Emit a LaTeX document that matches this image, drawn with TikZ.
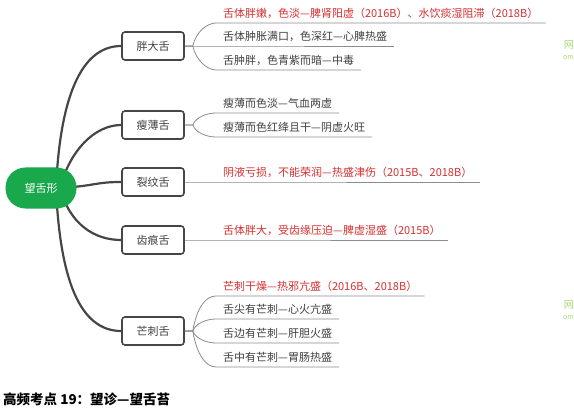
\documentclass[tikz,border=0pt]{standalone}
\usepackage{fontspec}
\newfontfamily\cjk{Noto Sans CJK SC}
\usetikzlibrary{backgrounds}

\definecolor{rootgreen}{RGB}{26,168,76}
\definecolor{hotred}{RGB}{214,48,49}
\definecolor{txtgray}{RGB}{64,64,64}
\definecolor{trunkgray}{RGB}{70,70,70}
\definecolor{leafgray}{RGB}{140,140,140}
\definecolor{markgreen}{RGB}{170,215,120}

\tikzset{
    rootnode/.style={fill=rootgreen, text=white, rounded corners=20pt,
        minimum width=71pt, minimum height=41pt, font=\cjk\fontsize{11}{13}\selectfont},
    topicbox/.style={draw=trunkgray, line width=1.6pt, rounded corners=3pt, fill=white,
        text=txtgray, minimum width=62pt, minimum height=28pt, font=\cjk\fontsize{11}{13}\selectfont},
    leaf/.style={anchor=south west, inner xsep=7pt, inner ysep=2.5pt, text height=8.5pt,
        text depth=2.5pt, text=txtgray, font=\cjk\fontsize{11}{13}\selectfont},
    hotleaf/.style={leaf, text=hotred},
    trunk/.style={draw=trunkgray, line width=2.2pt},
    leafline/.style={draw=leafgray, line width=0.8pt},
}

\begin{document}
\begin{tikzpicture}[x=1pt, y=-1pt]

    \useasboundingbox (0,0) rectangle (574,420);

    % centre and topics
    \node[rootnode] (wangshe) at (41,188) {望舌形};

    \node[topicbox] (pangda) at (153,46)  {胖大舌};
    \node[topicbox] (shoubo) at (153,125) {瘦薄舌};
    \node[topicbox] (liewen) at (153,182) {裂纹舌};
    \node[topicbox] (chihen) at (153,240) {齿痕舌};
    \node[topicbox] (mangci) at (153,331) {芒刺舌};

    % leaves
    \node[hotleaf] (pd1) at (216,23) {舌体胖嫩，色淡—脾肾阳虚（2016B）、水饮痰湿阻滞（2018B）};
    \node[leaf]    (pd2) at (216,46) {舌体肿胀满口，色深红—心脾热盛};
    \node[leaf]    (pd3) at (216,70) {舌肿胖，色青紫而暗—中毒};

    \node[leaf] (sb1) at (216,113) {瘦薄而色淡—气血两虚};
    \node[leaf] (sb2) at (216,137) {瘦薄而色红绛且干—阴虚火旺};

    \node[hotleaf] (lw1) at (216,182) {阴液亏损，不能荣润—热盛津伤（2015B、2018B）};

    \node[hotleaf] (ch1) at (216,240) {舌体胖大，受齿缘压迫—脾虚湿盛（2015B）};

    \node[hotleaf] (mc1) at (216,296) {芒刺干燥—热邪亢盛（2016B、2018B）};
    \node[leaf]    (mc2) at (216,319) {舌尖有芒刺—心火亢盛};
    \node[leaf]    (mc3) at (216,343) {舌边有芒刺—肝胆火盛};
    \node[leaf]    (mc4) at (216,367) {舌中有芒刺—胃肠热盛};

    % trunk curves, under the nodes
    \begin{scope}[on background layer]
    \fill[white] (0,0) rectangle (574,420);
    \draw[trunk] ([xshift=15pt]wangshe.center) .. controls (60,100) and (80,46) .. (pangda.west);
    \draw[trunk] ([xshift=19pt]wangshe.center) .. controls (70,150) and (95,125) .. (shoubo.west);
    \draw[trunk] ([xshift=19pt]wangshe.center) .. controls (95,186) and (95,182) .. (liewen.west);
    \draw[trunk] ([xshift=19pt]wangshe.center) .. controls (70,225) and (95,240) .. (chihen.west);
    \draw[trunk] ([xshift=15pt]wangshe.center) .. controls (60,280) and (80,331) .. (mangci.west);
    \end{scope}

    % leaf lines
    \draw[leafline] (pangda.east) -- ++(8,0) .. controls +(3,-14) and +(-9,0) .. (pd1.south west) -- (pd1.south east);
    \draw[leafline] (pangda.east) -- (pd2.south west) -- (pd2.south east);
    \draw[leafline] (pangda.east) -- ++(8,0) .. controls +(3,14) and +(-9,0) .. (pd3.south west) -- (pd3.south east);

    \draw[leafline] (shoubo.east) -- ++(8,0) .. controls +(3,-8) and +(-9,0) .. (sb1.south west) -- (sb1.south east);
    \draw[leafline] (shoubo.east) -- ++(8,0) .. controls +(3,8) and +(-9,0) .. (sb2.south west) -- (sb2.south east);

    \draw[leafline] (liewen.east) -- (lw1.south west) -- (lw1.south east);
    \draw[leafline] (chihen.east) -- (ch1.south west) -- (ch1.south east);

    \draw[leafline] (mangci.east) -- ++(8,0) .. controls +(4,-24) and +(-10,0) .. (mc1.south west) -- (mc1.south east);
    \draw[leafline] (mangci.east) -- ++(8,0) .. controls +(3,-8) and +(-9,0) .. (mc2.south west) -- (mc2.south east);
    \draw[leafline] (mangci.east) -- ++(8,0) .. controls +(3,8) and +(-9,0) .. (mc3.south west) -- (mc3.south east);
    \draw[leafline] (mangci.east) -- ++(8,0) .. controls +(4,24) and +(-10,0) .. (mc4.south west) -- (mc4.south east);

    % caption and watermark bits
    \node[anchor=west, inner sep=0pt, font=\cjk\bfseries\fontsize{13.5}{15}\selectfont] (caption) at (3,399) {高频考点 19：望诊—望舌苔};

    \node[anchor=east, inner sep=0pt, text=markgreen, font=\cjk\fontsize{10}{11}\selectfont] (mark1) at (574,45) {网};
    \node[anchor=east, inner sep=0pt, text=markgreen, font=\cjk\fontsize{7}{8}\selectfont] (mark2) at (574,58) {om};
    \node[anchor=east, inner sep=0pt, text=markgreen, font=\cjk\fontsize{10}{11}\selectfont] (mark3) at (574,305) {网};
    \node[anchor=east, inner sep=0pt, text=markgreen, font=\cjk\fontsize{7}{8}\selectfont] (mark4) at (574,318) {om};

\end{tikzpicture}
\end{document}
